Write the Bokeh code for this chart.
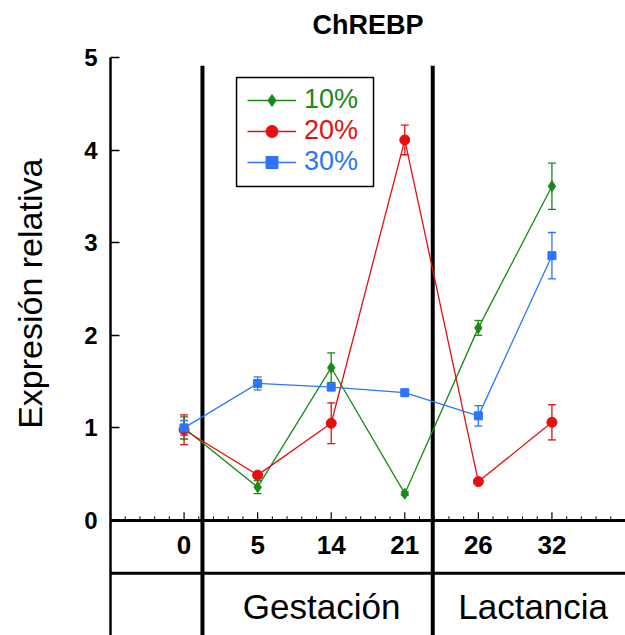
import numpy as np
from bokeh.plotting import figure
from bokeh.models import (ColumnDataSource, Whisker, TeeHead, FixedTicker, Legend,
                          LegendItem, BoxAnnotation, Range1d, Label)
from bokeh.core.properties import value
from bokeh.embed import file_html
from bokeh.resources import INLINE

# Sampling days (weeks of the protocol) and the two physiological phases
weeks = ["0", "5", "14", "21", "26", "32"]
phases = ["Gestación", "Lactancia"]

# Relative ChREBP expression (mean and error) for each diet group
mean_10 = [1.00, 0.36, 1.65, 0.29, 2.08, 3.61]
err_10 = [0.12, 0.07, 0.16, 0.02, 0.08, 0.25]
mean_20 = [0.98, 0.49, 1.05, 4.11, 0.42, 1.06]
err_20 = [0.16, 0.03, 0.22, 0.16, 0.02, 0.19]
mean_30 = [1.00, 1.48, 1.44, 1.38, 1.13, 2.86]
err_30 = [0.08, 0.07, 0.02, 0.03, 0.11, 0.25]

FONT = "Liberation Sans"
series = [
    ("10%", mean_10, err_10, "#178a17", "diamond", 11),
    ("20%", mean_20, err_20, "#e60f0f", "circle", 10),
    ("30%", mean_30, err_30, "#2b74ff", "square", 8),
]

pos = np.arange(1, len(weeks) + 1)
X_MAX = len(weeks) + 1
Y_TOP, Y_BOTTOM = 5, -1.242
DIVIDERS = [1.25, 4.38]          # phase boundaries on the x scale
ROW_LINE = -0.569                # separator between tick row and phase row
TICK_ROW, PHASE_ROW = -0.27, -0.93

p = figure(width=625, height=635, x_range=Range1d(0, X_MAX), y_range=Range1d(Y_BOTTOM, Y_TOP),
           x_axis_location=None, output_backend="svg", toolbar_location=None,
           min_border_left=110, min_border_right=0, min_border_top=57, min_border_bottom=0,
           title="ChREBP")
p.outline_line_color = None
p.grid.visible = False
p.background_fill_color = "white"

p.title.align = "center"
p.title.text_font = FONT
p.title.text_font_size = "27px"
p.title.text_font_style = "bold"
p.title.text_color = "black"
p.title.standoff = 0
p.title.padding = dict(top=0, right=0, bottom=18, left=0)

# y axis: ticks pointing inward, bold labels
ax = p.yaxis[0]
ax.ticker = FixedTicker(ticks=[0, 1, 2, 3, 4, 5])
ax.major_tick_in = 9
ax.major_tick_out = 0
ax.minor_tick_in = 0
ax.minor_tick_out = 0
ax.axis_line_width = 2.5
ax.major_tick_line_width = 1.5
ax.major_label_standoff = 13
ax.major_label_text_font = FONT
ax.major_label_text_font_size = "24px"
ax.major_label_text_font_style = "bold"
ax.major_label_text_color = "black"

# y title, centred on the 0-5 span of the value axis, drawn in the left margin
p.add_layout(Label(x=-1.09, y=(Y_TOP + 0) / 2, text="Expresión  relativa", angle=np.pi / 2,
                   text_align="center", text_baseline="middle", text_font=FONT,
                   text_font_size="34px", text_color="black"), "left")

# x baseline with minor/major ticks pointing up
p.segment(x0=[0], y0=[0], x1=[X_MAX], y1=[0], line_color="black", line_width=3)
minor = np.round(np.arange(0, X_MAX + 1e-9, 0.2), 2)
minor = minor[~np.isin(minor, pos)]
p.segment(x0=minor, y0=0, x1=minor, y1=0.045, line_color="black", line_width=1)
p.segment(x0=pos, y0=0, x1=pos, y1=0.09, line_color="black", line_width=1.2)

# table below the plot: row separator and phase dividers
p.segment(x0=[0], y0=[ROW_LINE], x1=[X_MAX], y1=[ROW_LINE], line_color="black", line_width=3)
p.segment(x0=DIVIDERS, y0=4.91, x1=DIVIDERS, y1=Y_BOTTOM, line_color="black", line_width=4)

p.text(x=pos, y=TICK_ROW, text=weeks, text_align="center", text_baseline="middle",
       text_font=value(FONT), text_font_size="26px", text_font_style="bold", text_color="black")
edges = [DIVIDERS[0], DIVIDERS[1], X_MAX]
phase_x = [(edges[i] + edges[i + 1]) / 2 + 0.055 for i in range(len(phases))]
p.text(x=phase_x, y=PHASE_ROW, text=phases, text_align="center", text_baseline="middle",
       text_font=value(FONT), text_font_size="35px", text_color="black")

# data series with error bars
legend_rows = [520, 489, 458]
for (label, mean, err, color, marker, size), ly in zip(series, legend_rows):
    m = np.array(mean)
    e = np.array(err)
    src = ColumnDataSource(dict(x=pos, y=m, upper=m + e, lower=m - e))
    ln = p.line("x", "y", source=src, line_color=color, line_width=1.3)
    pts = p.scatter("x", "y", source=src, marker=marker, size=size,
                    fill_color=color, line_color=color)
    p.add_layout(Whisker(source=src, base="x", upper="upper", lower="lower",
                         line_color=color, line_width=1.3,
                         upper_head=TeeHead(size=8, line_color=color, line_width=1.3),
                         lower_head=TeeHead(size=8, line_color=color, line_width=1.3)))
    leg = Legend(items=[LegendItem(label=label, renderers=[ln, pts])], location=(137, ly),
                 glyph_width=49, glyph_height=30, label_height=30, label_standoff=8,
                 padding=0, spacing=0, margin=0, border_line_color=None,
                 background_fill_alpha=0, label_text_font=FONT,
                 label_text_font_size="27px", label_text_color=color)
    p.add_layout(leg)

# frame around the legend entries
p.add_layout(BoxAnnotation(left=1.713, right=3.575, top=4.784, bottom=3.607,
                           fill_alpha=0, line_color="black", line_alpha=1, line_width=1.5))

open("out.html", "w").write(file_html(p, INLINE))
